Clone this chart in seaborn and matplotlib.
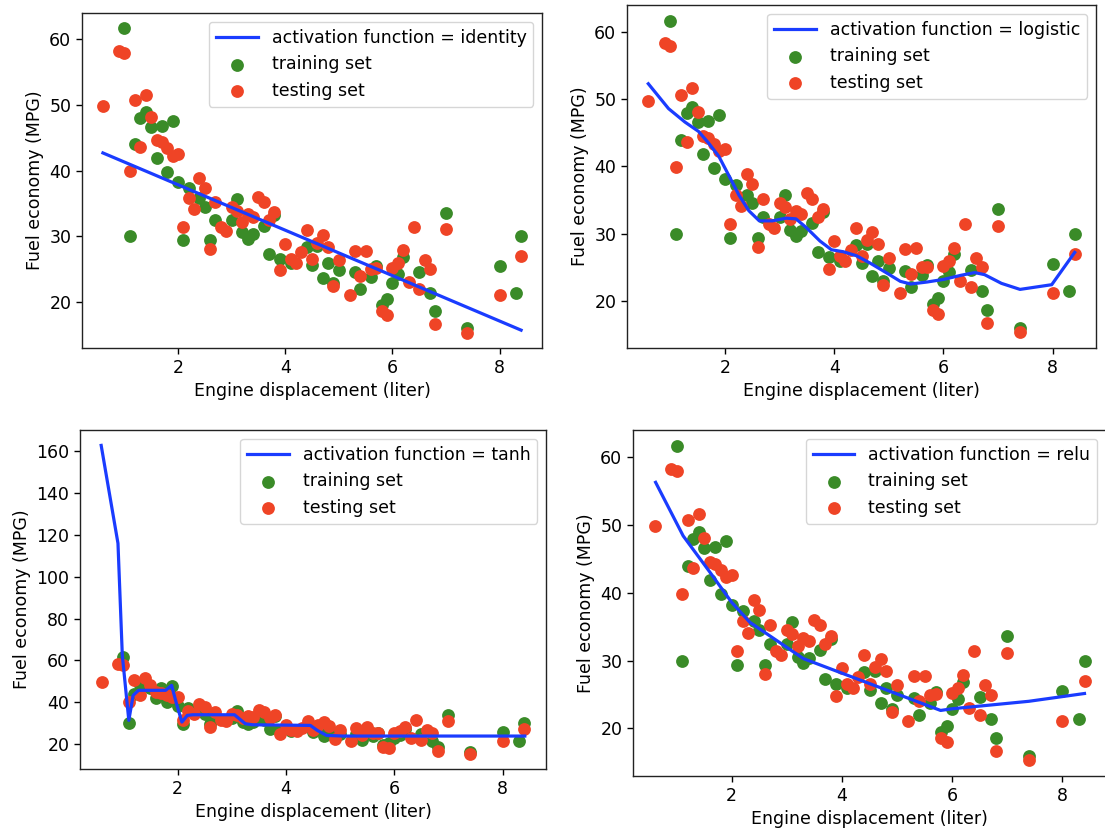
import matplotlib
matplotlib.use("Agg")
import matplotlib.pyplot as plt
import seaborn as sns
import pandas as pd

# ---- data -------------------------------------------------------------
train_x = [1.0, 1.1, 1.2, 1.3, 1.4, 1.5, 1.7, 1.9, 1.6, 1.8, 2.0, 2.2, 2.1, 2.4,
           2.5, 2.6, 2.7, 3.0, 3.1, 3.2, 3.3, 3.4, 3.6, 3.8, 3.7, 3.9, 4.1, 4.4,
           4.6, 4.5, 4.7, 4.8, 4.9, 5.0, 5.3, 5.4, 5.6, 5.7, 5.8, 5.9, 6.0, 6.1,
           6.2, 6.5, 6.7, 6.8, 7.0, 7.4, 8.0, 8.3, 8.4]
train_y = [61.7, 30.0, 44.0, 48.0, 48.9, 46.6, 46.8, 47.6, 41.9, 39.8, 38.2, 37.3,
           29.4, 35.8, 34.5, 29.4, 32.5, 32.5, 35.7, 30.6, 29.6, 30.4, 31.6, 33.2,
           27.3, 26.5, 25.9, 28.3, 28.5, 25.6, 23.7, 26.0, 22.9, 24.9, 24.5, 22.0,
           23.8, 25.4, 19.5, 20.4, 22.9, 24.3, 26.9, 24.6, 21.4, 18.6, 33.6, 16.0,
           25.5, 21.4, 30.0]

test_x = [0.6, 0.9, 1.0, 1.1, 1.2, 1.3, 1.4, 1.5, 1.6, 1.7, 1.8, 1.9, 2.0, 2.1,
          2.2, 2.3, 2.4, 2.5, 2.6, 2.7, 2.8, 2.9, 3.0, 3.1, 3.2, 3.3, 3.4, 3.5,
          3.6, 3.7, 3.8, 3.9, 4.0, 4.1, 4.2, 4.3, 4.4, 4.5, 4.6, 4.7, 4.8, 4.9,
          5.0, 5.2, 5.3, 5.4, 5.5, 5.6, 5.7, 5.8, 5.9, 6.0, 6.1, 6.2, 6.3, 6.4,
          6.5, 6.6, 6.7, 6.8, 7.0, 7.4, 8.0, 8.4]
test_y = [49.8, 58.3, 57.9, 39.9, 50.7, 43.6, 51.6, 48.1, 44.6, 44.3, 43.4, 42.3,
          42.6, 31.4, 35.8, 34.1, 38.9, 37.4, 28.0, 35.2, 31.4, 30.8, 34.5, 33.9,
          32.2, 33.4, 32.9, 36.0, 35.2, 32.5, 33.7, 24.8, 28.9, 26.6, 25.9, 27.6,
          30.9, 26.6, 29.0, 30.2, 28.4, 22.4, 26.4, 21.1, 27.7, 24.0, 27.8, 25.0,
          25.1, 18.6, 18.0, 25.2, 25.9, 27.9, 23.0, 31.4, 22.0, 26.4, 25.0, 16.7,
          31.1, 15.3, 21.1, 27.0]

identity_x = [0.6, 8.4]
identity_y = [42.7, 15.7]

logistic_x = [0.6, 0.97, 1.27, 1.52, 1.70, 1.89, 2.07, 2.26, 2.44, 2.63, 2.87,
              3.12, 3.30, 3.49, 3.74, 3.95, 4.17, 4.41, 4.66, 4.97, 5.21, 5.40,
              5.70, 6.01, 6.32, 6.57, 6.75, 7.06, 7.40, 7.98, 8.4]
logistic_y = [52.3, 48.6, 46.6, 45.2, 43.5, 41.5, 38.7, 35.7, 33.4, 31.9, 31.9,
              32.3, 32.2, 30.9, 28.9, 27.6, 27.3, 26.7, 25.6, 24.1, 22.9, 22.5,
              22.8, 23.2, 23.8, 24.2, 23.9, 22.6, 21.7, 22.4, 27.2]

tanh_x = [0.59, 0.90, 0.98, 1.10, 1.18, 1.28, 1.78, 1.89, 1.98, 2.08, 2.18, 2.28,
          3.05, 3.25, 3.38, 4.45, 4.58, 4.75, 5.05, 8.41]
tanh_y = [162.9, 116.0, 62.4, 31.2, 43.2, 45.6, 45.6, 48.0, 39.2, 30.4, 33.6, 33.9,
          33.9, 29.6, 29.1, 28.8, 26.4, 24.0, 23.7, 23.7]

relu_x = [0.62, 1.12, 1.6, 2.0, 2.33, 3.3, 5.79, 6.0, 7.39, 8.4]
relu_y = [56.3, 48.4, 43.1, 38.6, 35.65, 30.3, 22.65, 22.9, 24.0, 25.15]

activations = ["identity", "logistic", "tanh", "relu"]
line_x = [identity_x, logistic_x, tanh_x, relu_x]
line_y = [identity_y, logistic_y, tanh_y, relu_y]

x_label = "Engine displacement (liter)"
y_label = "Fuel economy (MPG)"

# ---- style ------------------------------------------------------------
GREEN = "#3a8b28"
RED = "#ef4426"
BLUE = "#1a3cff"

plt.rcParams.update({
    "font.family": ["DejaVu Sans"],
    "font.size": 12.5,
    "axes.linewidth": 1.0,
    "xtick.major.width": 1.0,
    "ytick.major.width": 1.0,
    "xtick.major.size": 4.2,
    "ytick.major.size": 4.2,
})

W, H = 1105, 835
fig = plt.figure(figsize=(W / 100, H / 100), dpi=100)
fig.patch.set_facecolor("white")

# pixel boxes (left, top, right, bottom)
boxes = [(82, 13, 542, 348), (627, 5, 1096, 348),
         (80, 430, 546, 769), (633, 430, 1106, 776)]

train_df = pd.DataFrame({"x": train_x, "y": train_y})
test_df = pd.DataFrame({"x": test_x, "y": test_y})

for act, lx, ly, (l, t, r, b) in zip(activations, line_x, line_y, boxes):
    ax = fig.add_axes([l / W, (H - b) / H, (r - l) / W, (b - t) / H])
    sns.lineplot(x=lx, y=ly, ax=ax, color=BLUE, linewidth=2.3,
                 label=f"activation function = {act}", sort=False)
    sns.scatterplot(data=train_df, x="x", y="y", ax=ax, color=GREEN, s=85,
                    linewidth=0, label="training set")
    sns.scatterplot(data=test_df, x="x", y="y", ax=ax, color=RED, s=85,
                    linewidth=0, label="testing set")
    ax.set_xlabel(x_label)
    ax.set_ylabel(y_label)
    ax.set_xticks([2, 4, 6, 8])
    ax.legend(loc="upper right", handlelength=2.4, scatterpoints=1,
              borderaxespad=0.5)
    for sp in ax.spines.values():
        sp.set_color("#222222")

fig.savefig("out.png", dpi=100)
